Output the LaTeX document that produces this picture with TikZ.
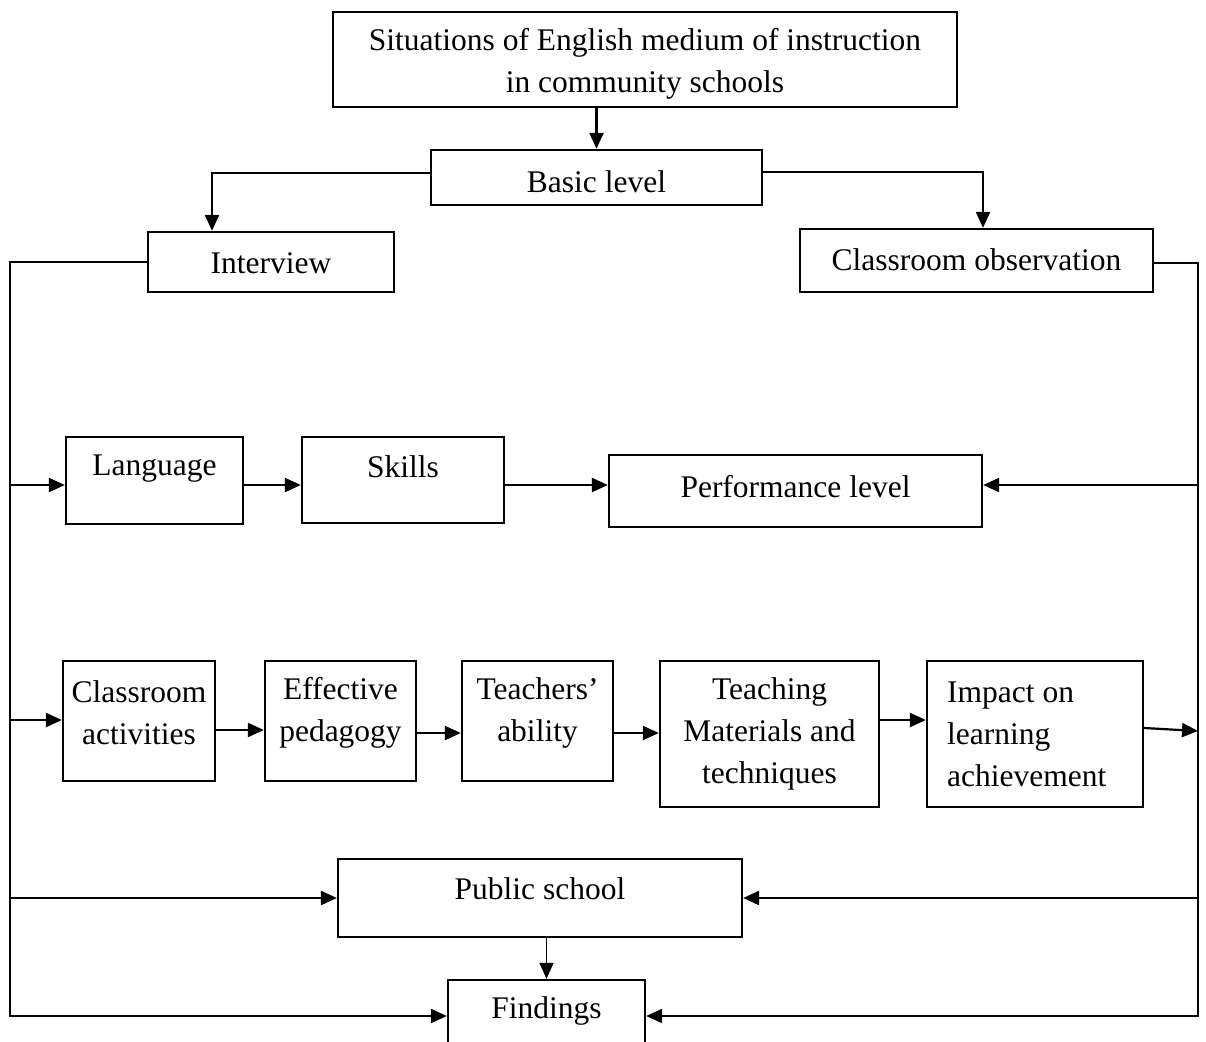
\documentclass[tikz,border=0pt]{standalone}
\usepackage{fontspec}
\setmainfont{Liberation Serif}
\usetikzlibrary{arrows.meta,calc}
\begin{document}
\begin{tikzpicture}[x=1pt,y=-1pt,
  box/.style={draw,line width=2.3pt,inner sep=0pt},
  txt/.style={inner sep=0pt,align=center,font=\fontsize{31.5}{42}\selectfont},
  arr/.style={line width=2.2pt,-{Triangle[length=16pt,width=14pt]}}]
\useasboundingbox (0,0) rectangle (1206,1041);
\clip (0,0) rectangle (1206,1041);
% boxes
\node[box,minimum width=624pt,minimum height=95pt] (top) at (645,59.5) {};
\node[txt] (ttop) at (645,64) {Situations of English medium of instruction\\in community schools};
\node[box,minimum width=331pt,minimum height=55pt] (basic) at (596.5,177.5) {};
\node[txt] (tbasic) at (596.5,182) {Basic level};
\node[box,minimum width=246pt,minimum height=60pt] (interview) at (271,262) {};
\node[txt] (tinterview) at (271,263) {Interview};
\node[box,minimum width=353pt,minimum height=63pt] (obs) at (976.5,260.5) {};
\node[txt] (tobs) at (976.5,260) {Classroom observation};
\node[box,minimum width=177pt,minimum height=87pt] (lang) at (154.5,480.5) {};
\node[txt] (tlang) at (154.5,469) {Language};
\node[box,minimum width=202pt,minimum height=86pt] (skills) at (403,480) {};
\node[txt] (tskills) at (403,467) {Skills};
\node[box,minimum width=373pt,minimum height=72pt] (perf) at (795.5,491) {};
\node[txt] (tperf) at (795.5,487) {Performance level};
\node[box,minimum width=152pt,minimum height=120pt] (ca) at (139,721) {};
\node[txt] (tca) at (139,713) {Classroom\\activities};
\node[box,minimum width=151pt,minimum height=120pt] (ep) at (340.5,721) {};
\node[txt] (tep) at (340.5,713) {Effective\\pedagogy};
\node[box,minimum width=151pt,minimum height=120pt] (ta) at (537.5,721) {};
\node[txt] (tta) at (537.5,713) {Teachers’\\ability};
\node[box,minimum width=219pt,minimum height=146pt] (tm) at (769.5,734) {};
\node[txt] (ttm) at (769.5,734) {Teaching\\Materials and\\techniques};
\node[box,minimum width=216pt,minimum height=146pt] (imp) at (1035,734) {};
\node[txt,align=left,anchor=west] (timp) at (947,734) {Impact on\\learning\\achievement};
\node[box,minimum width=404pt,minimum height=78pt] (ps) at (540,898) {};
\node[txt] (tps) at (540,889) {Public school};
\node[box,minimum width=197pt,minimum height=72pt] (find) at (546.5,1016) {};
\node[txt] (tfind) at (546.5,1011) {Findings};
% helper coordinates
\coordinate (LB) at (10,1016);
\coordinate (RB) at (1198,1016);
\coordinate (r2) at (0,485);
\coordinate (r3) at (0,720);
% connectors
\draw[arr] (basic.north |- top.south) -- (basic.north);
\draw[arr] ([yshift=4.5pt]basic.west) -| ([xshift=-59pt]interview.north);
\draw[arr] ([yshift=5.5pt]basic.east) -| ([xshift=6.5pt]obs.north);
\draw[arr] (interview.west) -| (LB) -- (LB -| find.west);
\draw[arr] ([yshift=-2.5pt]obs.east) -| (RB) -- (RB -| find.east);
\draw[arr] (r2 -| LB) -- (r2 -| lang.west);
\draw[arr] (r2 -| lang.east) -- (r2 -| skills.west);
\draw[arr] (r2 -| skills.east) -- (r2 -| perf.west);
\draw[arr] (r2 -| RB) -- (r2 -| perf.east);
\draw[arr] (r3 -| LB) -- (r3 -| ca.west);
\draw[arr] ([yshift=-9pt]ca.east) -- ([yshift=-9pt]ca.east -| ep.west);
\draw[arr] ([yshift=-12pt]ep.east) -- ([yshift=-12pt]ep.east -| ta.west);
\draw[arr] ([yshift=-12pt]ta.east) -- ([yshift=-12pt]ta.east -| tm.west);
\draw[arr] ([yshift=14pt]tm.east) -- ([yshift=14pt]tm.east -| imp.west);
\coordinate (impend) at (1198,731);
\draw[arr] ([yshift=6pt]imp.east) -- (impend);
\draw[arr] (ps.west -| LB) -- (ps.west);
\draw[arr] (ps.east -| RB) -- (ps.east);
\draw[arr,line width=1.4pt] (find.north |- ps.south) -- (find.north);
\end{tikzpicture}
\end{document}
